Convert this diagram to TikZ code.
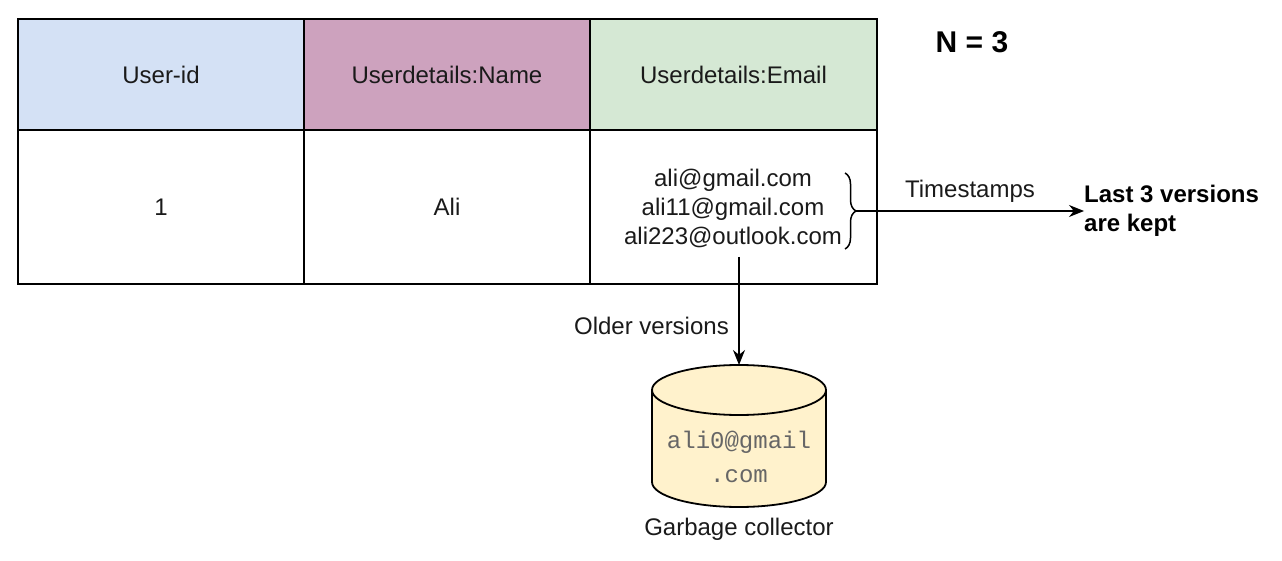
\documentclass[tikz,border=0pt]{standalone}
\usepackage{fontspec}
\setmainfont{Liberation Sans}
\newfontfamily\monofnt{Liberation Mono}
\usetikzlibrary{arrows.meta,decorations.pathreplacing}
\definecolor{hblue}{HTML}{D4E1F5}
\definecolor{hpink}{HTML}{CDA2BE}
\definecolor{hgreen}{HTML}{D5E8D4}
\definecolor{cylfill}{HTML}{FFF2CC}
\definecolor{monogray}{HTML}{666666}
\definecolor{txt}{HTML}{1A1A1A}
\begin{document}
\begin{tikzpicture}[x=1pt,y=-1pt,
  cell/.style={draw=black,line width=1.8pt,minimum width=286pt,inner sep=0pt,outer sep=0pt,font=\fontsize{24}{28}\selectfont,text=txt},
  head/.style={cell,minimum height=111pt},
  datacell/.style={cell,minimum height=154pt},
  lbl/.style={font=\fontsize{24}{28}\selectfont,text=txt,inner sep=0pt},
  boldlbl/.style={font=\fontsize{24}{29}\selectfont\bfseries,inner sep=0pt,align=left},
  arr/.style={line width=1.5pt,-{Stealth[length=15pt,width=12pt]}}]
\useasboundingbox (0,0) rectangle (1282,561);
% header
\node[head,fill=hblue,anchor=north west] (h1) at (18,19) {User-id};
\node[head,fill=hpink,anchor=north west] (h2) at (304,19) {Userdetails:Name};
\node[head,fill=hgreen,anchor=north west,minimum width=287pt] (h3) at (590,19) {Userdetails:Email};
% data
\node[datacell,anchor=north west] (d1) at (18,130) {1};
\node[datacell,anchor=north west] (d2) at (304,130) {Ali};
\node[datacell,anchor=north west,minimum width=287pt] (d3) at (590,130) {};
% emails
\node[lbl] (e1) at (733,180) {ali@gmail.com};
\node[lbl] (e2) at (733,209) {ali11@gmail.com};
\node[lbl] (e3) at (733,237) {ali223@outlook.com};
% brace
\coordinate (bt) at (845,173);
\coordinate (bb) at (845,249);
\draw[line width=1.5pt,decorate,decoration={brace,amplitude=11pt,aspect=0.5}] (bt) -- (bb);
\coordinate (btip) at (856,211);
% N = 3
\node[font=\fontsize{30}{34}\selectfont\bfseries,inner sep=0pt] (n3) at (972,42) {N = 3};
% result
\node[boldlbl,anchor=west] (res) at (1084,211) {Last 3 versions\\are kept};
\draw[arr] (btip) -- (res.west) node[midway,above=8pt,lbl] (ts) {Timestamps};
% cylinder
\coordinate (cyltop) at (739,365);
\fill[cylfill] (652,390) -- (652,482) arc (180:0:87 and 25) -- (826,390) arc (0:-180:87 and 25) -- cycle;
\draw[line width=1.8pt] (652,390) -- (652,482) arc (180:0:87 and 25) -- (826,390) arc (0:-180:87 and 25) -- cycle;
\draw[line width=1.8pt] (652,390) arc (180:0:87 and 25);
\node[font=\fontsize{24}{34}\selectfont\monofnt,text=monogray,align=center,inner sep=0pt] (gc) at (739,457) {ali0@gmail\\.com};
\node[lbl] (gclbl) at (739,529) {Garbage collector};
% older versions arrow
\coordinate (vstart) at (739,257);
\draw[arr] (vstart) -- (cyltop);
\node[lbl,anchor=east] (ov) at (729,326) {Older versions};
\end{tikzpicture}
\end{document}
